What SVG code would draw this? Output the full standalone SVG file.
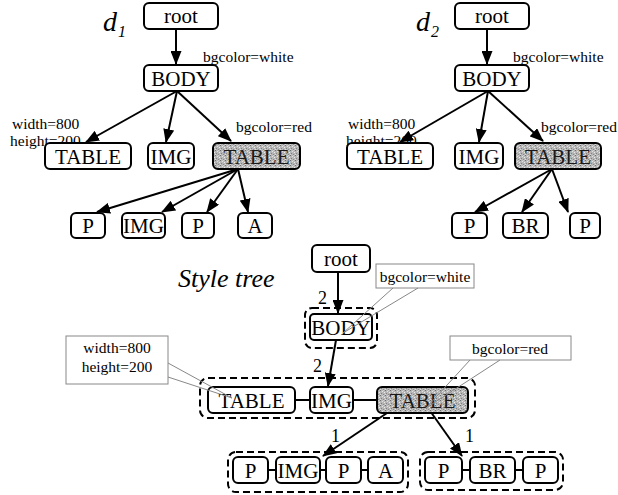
<svg xmlns="http://www.w3.org/2000/svg" width="618" height="495" viewBox="0 0 618 495">
<style>
.n{fill:#fff;stroke:#000;stroke-width:2}
.g{fill:url(#stip);stroke:#000;stroke-width:2}
.t{font-family:"Liberation Serif","Times New Roman",serif;font-size:21px;text-anchor:middle;fill:#000}
.tg{font-family:"Liberation Serif","Times New Roman",serif;font-size:21px;text-anchor:middle;fill:#1a1a1a}
.lb{font-family:"Liberation Serif","Times New Roman",serif;font-size:15.5px;fill:#000}
.lc{font-family:"Liberation Serif","Times New Roman",serif;font-size:15.5px;fill:#000;text-anchor:middle}
.it{font-family:"Liberation Serif","Times New Roman",serif;font-style:italic;fill:#000}
.num{font-family:"Liberation Serif","Times New Roman",serif;font-size:18px;fill:#000}
.a{stroke:#000;stroke-width:2;fill:none;marker-end:url(#ah)}
.c{stroke:#000;stroke-width:2;fill:none}
.d{fill:none;stroke:#000;stroke-width:2;stroke-dasharray:7 4}
.co{fill:#fff;stroke:#888;stroke-width:1}
.cp{fill:none;stroke:#888;stroke-width:1}
</style>
<defs>
<marker id="ah" viewBox="0 0 14 11" refX="13" refY="5.5" markerWidth="14" markerHeight="11" markerUnits="userSpaceOnUse" orient="auto">
<path d="M0,0 L14,5.5 L0,11 z" fill="#000"/>
</marker>
<pattern id="stip" width="5" height="5" patternUnits="userSpaceOnUse">
<rect width="5" height="5" fill="#b6b6b6"/>
<rect x="0" y="0" width="1" height="1" fill="#6e6e6e"/>
<rect x="2" y="1" width="1" height="1" fill="#e2e2e2"/>
<rect x="1" y="3" width="1" height="1" fill="#808080"/>
<rect x="4" y="2" width="1" height="1" fill="#ececec"/>
<rect x="3" y="4" width="1" height="1" fill="#8a8a8a"/>
<rect x="3" y="0" width="1" height="1" fill="#d0d0d0"/>
<rect x="0" y="4" width="1" height="1" fill="#dcdcdc"/>
</pattern>
</defs>

<!-- titles -->
<text class="it" x="103" y="31" font-size="28">d</text><text class="it" x="118" y="37" font-size="16">1</text>
<text class="it" x="416" y="31" font-size="28">d</text><text class="it" x="431" y="37" font-size="16">2</text>
<text class="it" x="178" y="287" font-size="26">Style tree</text>

<!-- d1 tree labels -->
<text class="lb" x="203" y="62">bgcolor=white</text>
<text class="lb" x="12" y="129">width=800</text>
<text class="lb" x="10" y="146">height=200</text>
<text class="lb" x="236" y="132">bgcolor=red</text>
<!-- d2 tree labels -->
<text class="lb" x="513" y="62">bgcolor=white</text>
<text class="lb" x="348" y="129">width=800</text>
<text class="lb" x="346" y="146">height=200</text>
<text class="lb" x="541" y="132">bgcolor=red</text>

<g id="connectors">
<!-- d1 -->
<line class="a" x1="176" y1="29" x2="176" y2="64"/>
<line class="a" x1="177" y1="91" x2="86" y2="142"/>
<line class="a" x1="177" y1="91" x2="166" y2="142"/>
<line class="a" x1="177" y1="91" x2="231" y2="141"/>
<line class="a" x1="238" y1="169" x2="97" y2="212"/>
<line class="a" x1="238" y1="169" x2="162" y2="212"/>
<line class="a" x1="238" y1="169" x2="207" y2="212"/>
<line class="a" x1="238" y1="169" x2="248" y2="212"/>
<!-- d2 -->
<line class="a" x1="487" y1="29" x2="487" y2="64"/>
<line class="a" x1="488" y1="91" x2="400" y2="142"/>
<line class="a" x1="488" y1="91" x2="479" y2="142"/>
<line class="a" x1="488" y1="91" x2="543" y2="141"/>
<line class="a" x1="552" y1="169" x2="475" y2="212"/>
<line class="a" x1="552" y1="169" x2="522" y2="212"/>
<line class="a" x1="552" y1="169" x2="568" y2="212"/>
<!-- style tree -->
<line class="a" x1="338" y1="272" x2="338" y2="313"/>
<line class="a" x1="336" y1="340" x2="328" y2="386"/>
<line class="a" x1="393" y1="409" x2="323" y2="456"/>
<line class="a" x1="428" y1="408" x2="462" y2="456"/>
<line class="c" x1="295" y1="400" x2="310" y2="400"/>
<line class="c" x1="353" y1="400" x2="377" y2="400"/>
<line class="c" x1="268" y1="470" x2="276" y2="470"/>
<line class="c" x1="320" y1="470" x2="326" y2="470"/>
<line class="c" x1="361" y1="470" x2="368" y2="470"/>
<line class="c" x1="462" y1="470" x2="470" y2="470"/>
<line class="c" x1="515" y1="470" x2="523" y2="470"/>
<text class="num" x="318" y="304">2</text>
<text class="num" x="313" y="372">2</text>
<text class="num" x="331" y="442">1</text>
<text class="num" x="465" y="442">1</text>
</g>

<!-- d1 nodes -->
<g id="d1_root"><rect class="n" x="144" y="3" width="74" height="26" rx="5"/><text class="t" x="181" y="23">root</text></g>
<g id="d1_body"><rect class="n" x="144" y="65" width="74" height="26" rx="5"/><text class="t" x="181" y="85.5">BODY</text></g>
<g id="d1_table1"><rect class="n" x="45" y="143" width="86" height="26" rx="5"/><text class="t" x="88" y="163.5">TABLE</text></g>
<g id="d1_img"><rect class="n" x="148" y="143" width="46" height="26" rx="5"/><text class="t" x="171" y="163.5">IMG</text></g>
<g id="d1_table2"><rect class="g" x="213" y="143" width="87" height="26" rx="5"/><text class="tg" x="256.5" y="163.5">TABLE</text></g>
<g id="d1_p1"><rect class="n" x="71" y="213" width="34" height="25" rx="5"/><text class="t" x="88" y="233">P</text></g>
<g id="d1_img2"><rect class="n" x="122" y="213" width="43" height="25" rx="5"/><text class="t" x="143.5" y="233">IMG</text></g>
<g id="d1_p2"><rect class="n" x="182" y="213" width="32" height="25" rx="5"/><text class="t" x="198" y="233">P</text></g>
<g id="d1_a"><rect class="n" x="238" y="213" width="34" height="25" rx="5"/><text class="t" x="255" y="233">A</text></g>

<!-- d2 nodes -->
<g id="d2_root"><rect class="n" x="455" y="3" width="74" height="26" rx="5"/><text class="t" x="492" y="23">root</text></g>
<g id="d2_body"><rect class="n" x="455" y="65" width="74" height="26" rx="5"/><text class="t" x="492" y="85.5">BODY</text></g>
<g id="d2_table1"><rect class="n" x="347" y="143" width="86" height="26" rx="5"/><text class="t" x="390" y="163.5">TABLE</text></g>
<g id="d2_img"><rect class="n" x="455" y="143" width="48" height="26" rx="5"/><text class="t" x="479" y="163.5">IMG</text></g>
<g id="d2_table2"><rect class="g" x="515" y="143" width="86" height="26" rx="5"/><text class="tg" x="558" y="163.5">TABLE</text></g>
<g id="d2_p1"><rect class="n" x="452" y="213" width="35" height="25" rx="5"/><text class="t" x="469.5" y="233">P</text></g>
<g id="d2_br"><rect class="n" x="503" y="213" width="45" height="25" rx="5"/><text class="t" x="525.5" y="233">BR</text></g>
<g id="d2_p2"><rect class="n" x="570" y="213" width="30" height="25" rx="5"/><text class="t" x="585" y="233">P</text></g>

<!-- style tree nodes -->
<g id="s_root"><rect class="n" x="312" y="245" width="58" height="27" rx="5"/><text class="t" x="341" y="265.5">root</text></g>
<g id="s_body_grp"><rect class="d" x="305" y="308" width="72" height="40" rx="7"/>
<rect class="n" x="310" y="314" width="62" height="26" rx="4"/><text class="t" x="341" y="334.5">BODY</text></g>
<g id="s_level2"><rect class="d" x="200" y="378" width="275" height="40" rx="8"/></g>
<g id="s_table1"><rect class="n" x="208" y="387" width="87" height="26" rx="5"/><text class="t" x="251.5" y="407.5">TABLE</text></g>
<g id="s_img"><rect class="n" x="310" y="387" width="43" height="26" rx="5"/><text class="t" x="331.5" y="407.5">IMG</text></g>
<g id="s_table2"><rect class="g" x="377" y="387" width="91" height="26" rx="5"/><text class="tg" x="422.5" y="407.5">TABLE</text></g>
<g id="s_grp1"><rect class="d" x="228" y="452" width="180" height="40" rx="8"/></g>
<g id="s_p1"><rect class="n" x="233" y="457" width="35" height="26" rx="5"/><text class="t" x="250.5" y="477.5">P</text></g>
<g id="s_img2"><rect class="n" x="276" y="457" width="44" height="26" rx="5"/><text class="t" x="298" y="477.5">IMG</text></g>
<g id="s_p2"><rect class="n" x="326" y="457" width="35" height="26" rx="5"/><text class="t" x="343.5" y="477.5">P</text></g>
<g id="s_a"><rect class="n" x="368" y="457" width="35" height="26" rx="5"/><text class="t" x="385.5" y="477.5">A</text></g>
<g id="s_grp2"><rect class="d" x="420" y="452" width="143" height="38" rx="8"/></g>
<g id="s_p3"><rect class="n" x="425" y="457" width="37" height="26" rx="5"/><text class="t" x="443.5" y="477.5">P</text></g>
<g id="s_br"><rect class="n" x="470" y="457" width="45" height="26" rx="5"/><text class="t" x="492.5" y="477.5">BR</text></g>
<g id="s_p4"><rect class="n" x="523" y="457" width="35" height="26" rx="5"/><text class="t" x="540.5" y="477.5">P</text></g>

<!-- callouts -->
<g id="callout_white"><rect class="co" x="376" y="264" width="98" height="24"/><polyline class="cp" points="393,288 343,333 418,288"/><text class="lc" x="425" y="282">bgcolor=white</text></g>
<g id="callout_size"><rect class="co" x="66" y="336" width="102" height="48"/><polyline class="cp" points="168,363 232,398 168,377"/><text class="lc" x="117" y="353">width=800</text><text class="lc" x="117" y="372">height=200</text></g>
<g id="callout_red"><rect class="co" x="450" y="336" width="121" height="24"/><polyline class="cp" points="470,360 426,408 500,360"/><text class="lc" x="510" y="354">bgcolor=red</text></g>
</svg>
